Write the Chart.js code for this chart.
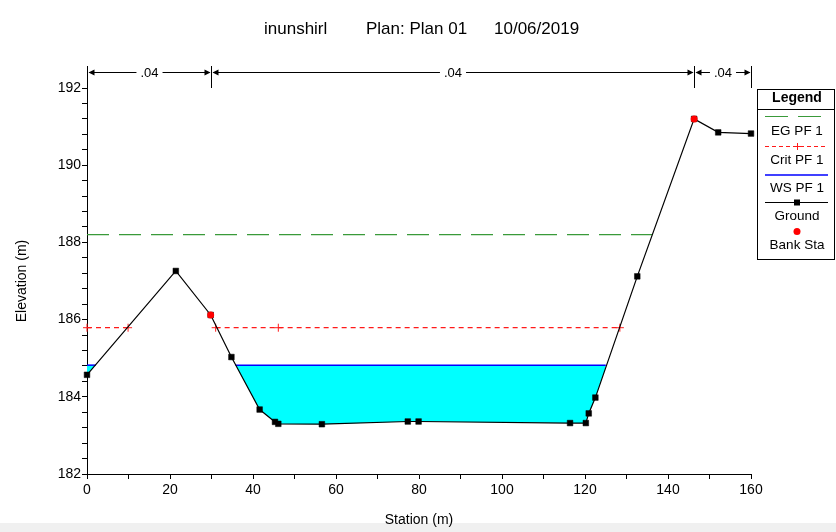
<!DOCTYPE html>
<html><head><meta charset="utf-8">
<script src="https://cdn.jsdelivr.net/npm/chart.js@4/dist/chart.umd.min.js"></script>
<style>
html,body{margin:0;padding:0;background:#fff;width:836px;height:532px;overflow:hidden}
#strip{position:absolute;left:0;top:523px;width:836px;height:9px;background:#f0f0f0}
#wrap{position:absolute;left:0;top:0;width:836px;height:532px}
</style></head><body>
<div id="strip"></div>
<div id="wrap"><canvas id="c" width="836" height="532"></canvas></div>
<script>
// ---- data ----
const titleParts = ['inunshirl', 'Plan: Plan 01', '10/06/2019'];
const xTitle = 'Station (m)';
const yTitle = 'Elevation (m)';
const groundSta  = [0, 21.4, 29.8, 34.8, 41.6, 45.3, 46.1, 56.6, 77.3, 79.9, 116.4, 120.2, 120.9, 122.5, 132.6, 146.3, 152.1, 160];
const groundElev = [184.57, 187.26, 186.12, 185.03, 183.67, 183.35, 183.30, 183.29, 183.36, 183.36, 183.32, 183.32, 183.57, 183.98, 187.12, 191.20, 190.85, 190.82];
const bankSta  = [29.8, 146.3];
const bankElev = [186.12, 191.20];
const wsElev = 184.82;
const wsLeftSta = [0, 2.1];
const wsMainSta = [35.8, 125.0];
const egElev = 188.20;
const egSta = [0, 136.2];
const critElev = 185.79;
const critLeftSta = [0, 9.9];
const critMainSta = [31.0, 46.1, 128.4];
const nBreaks = [0, 29.8, 146.3, 160];
const nValues = ['.04', '.04', '.04'];
const legendLabels = ['EG PF 1', 'Crit PF 1', 'WS PF 1', 'Ground', 'Bank Sta'];
const xTicks = [0, 20, 40, 60, 80, 100, 120, 140, 160];
const yTicks = [182, 184, 186, 188, 190, 192];

const F = '"Liberation Sans", Arial, sans-serif';
const C_EG = '#3a9a3a', C_CRIT = '#ff1a1a', C_WS = '#0000ff', C_WATER = '#00ffff', C_BANK = '#ff0000';

const pts = (xs, ys) => xs.map((x, i) => ({x: x, y: Array.isArray(ys) ? ys[i] : ys}));

const overlay = {
  id: 'overlay',
  afterDraw(chart) {
    const ctx = chart.ctx, xs = chart.scales.x, area = chart.chartArea;
    ctx.save();
    // title
    ctx.fillStyle = '#000';
    ctx.font = '17px ' + F;
    ctx.textBaseline = 'middle';
    ctx.textAlign = 'left';
    const tx = [264, 366, 494];
    titleParts.forEach((t, i) => ctx.fillText(t, tx[i], 29));
    // manning's n annotation
    ctx.strokeStyle = '#000';
    ctx.fillStyle = '#000';
    ctx.lineWidth = 1;
    const ay = 72.5;
    nBreaks.forEach(b => {
      const px = Math.round(xs.getPixelForValue(b)) + 0.5;
      ctx.beginPath(); ctx.moveTo(px, 66); ctx.lineTo(px, area.top); ctx.stroke();
    });
    ctx.font = '13px ' + F;
    ctx.textAlign = 'center';
    for (let i = 0; i < nValues.length; i++) {
      const xa = Math.round(xs.getPixelForValue(nBreaks[i])) + 0.5;
      const xb = Math.round(xs.getPixelForValue(nBreaks[i + 1])) + 0.5;
      const mid = (xa + xb) / 2;
      const w = ctx.measureText(nValues[i]).width / 2 + 4;
      ctx.beginPath();
      ctx.moveTo(xa + 2, ay); ctx.lineTo(mid - w, ay);
      ctx.moveTo(mid + w, ay); ctx.lineTo(xb - 2, ay);
      ctx.stroke();
      ctx.beginPath();
      ctx.moveTo(xa + 1, ay); ctx.lineTo(xa + 7, ay - 3); ctx.lineTo(xa + 7, ay + 3); ctx.closePath(); ctx.fill();
      ctx.beginPath();
      ctx.moveTo(xb - 1, ay); ctx.lineTo(xb - 7, ay - 3); ctx.lineTo(xb - 7, ay + 3); ctx.closePath(); ctx.fill();
      ctx.fillText(nValues[i], mid, ay + 1);
    }
    // legend box
    const L = 757.5, R = 834.5, T = 89.5, B = 259.5, cx = 797;
    ctx.strokeStyle = '#000';
    ctx.lineWidth = 1;
    ctx.fillStyle = '#fff';
    ctx.fillRect(L, T, R - L, B - T);
    ctx.strokeRect(L, T, R - L, B - T);
    ctx.beginPath(); ctx.moveTo(L, 109.5); ctx.lineTo(R, 109.5); ctx.stroke();
    ctx.fillStyle = '#000';
    ctx.font = 'bold 14px ' + F;
    ctx.textAlign = 'center';
    ctx.fillText('Legend', cx, 98);
    ctx.font = '13.5px ' + F;
    const lx0 = 765, lx1 = 828;
    // EG
    ctx.strokeStyle = C_EG; ctx.setLineDash([23, 10]);
    ctx.beginPath(); ctx.moveTo(lx0, 116.5); ctx.lineTo(lx1, 116.5); ctx.stroke();
    // Crit
    ctx.strokeStyle = C_CRIT; ctx.setLineDash([4, 3]);
    ctx.beginPath(); ctx.moveTo(lx0, 146.5); ctx.lineTo(lx1, 146.5); ctx.stroke();
    ctx.setLineDash([]);
    ctx.beginPath(); ctx.moveTo(cx - 3, 146.5); ctx.lineTo(cx + 3, 146.5); ctx.moveTo(cx + 0.5, 143); ctx.lineTo(cx + 0.5, 150); ctx.stroke();
    // WS
    ctx.strokeStyle = C_WS; ctx.lineWidth = 1.5;
    ctx.beginPath(); ctx.moveTo(lx0, 175); ctx.lineTo(lx1, 175); ctx.stroke();
    // Ground
    ctx.strokeStyle = '#000'; ctx.lineWidth = 1;
    ctx.beginPath(); ctx.moveTo(lx0, 202.5); ctx.lineTo(lx1, 202.5); ctx.stroke();
    ctx.fillStyle = '#000'; ctx.fillRect(cx - 3, 199.5, 6, 6);
    // Bank
    ctx.fillStyle = C_BANK;
    ctx.beginPath(); ctx.arc(cx, 231.5, 3.5, 0, Math.PI * 2); ctx.fill();
    ctx.fillStyle = '#000';
    const ly = [131.5, 160, 188.5, 216.5, 245];
    legendLabels.forEach((t, i) => ctx.fillText(t, cx, ly[i]));
    ctx.restore();
  }
};

new Chart(document.getElementById('c'), {
  type: 'scatter',
  data: {
    datasets: [
      { label: 'Ground', data: pts(groundSta, groundElev), showLine: true, borderColor: '#000', borderWidth: 1.2,
        pointStyle: 'rect', pointRadius: 4, pointBackgroundColor: '#000', pointBorderColor: '#000', pointBorderWidth: 0.5,
        fill: false, order: 1, clip: false },
      { label: 'WS PF 1', data: pts(wsMainSta, wsElev), showLine: true, borderColor: C_WS, borderWidth: 1.5,
        pointRadius: 0, backgroundColor: C_WATER, fill: {target: 0}, order: 3 },
      { label: 'WS PF 1 left', data: pts(wsLeftSta, wsElev), showLine: true, borderColor: C_WS, borderWidth: 1.5,
        pointRadius: 0, backgroundColor: C_WATER, fill: {target: 0}, order: 3 },
      { label: 'EG PF 1', data: pts(egSta, egElev), showLine: true, borderColor: C_EG, borderWidth: 1.2, borderDash: [22, 10],
        pointRadius: 0, fill: false, order: 2 },
      { label: 'Crit PF 1', data: pts(critLeftSta, critElev), showLine: true, borderColor: C_CRIT, borderWidth: 1.2, borderDash: [5, 4],
        pointStyle: 'cross', pointRadius: 4, pointBorderColor: C_CRIT, pointBorderWidth: 1, fill: false, order: 2, clip: false },
      { label: 'Crit PF 1 main', data: pts(critMainSta, critElev), showLine: true, borderColor: C_CRIT, borderWidth: 1.2, borderDash: [5, 4],
        pointStyle: 'cross', pointRadius: 4, pointBorderColor: C_CRIT, pointBorderWidth: 1, fill: false, order: 2, clip: false },
      { label: 'Bank Sta', data: pts(bankSta, bankElev), showLine: false, pointStyle: 'circle', pointRadius: 3.5,
        pointBackgroundColor: C_BANK, pointBorderColor: C_BANK, pointBorderWidth: 0, order: 0, clip: false }
    ]
  },
  options: {
    responsive: false,
    animation: false,
    layout: { padding: { top: 88, right: 85, left: 0, bottom: 0 } },
    plugins: { legend: { display: false }, title: { display: false }, tooltip: { enabled: false } },
    elements: { line: { tension: 0 } },
    scales: {
      x: {
        type: 'linear', min: xTicks[0], max: xTicks[xTicks.length - 1],
        ticks: { stepSize: 10, autoSkip: false, maxRotation: 0, padding: 3, color: '#000', font: { family: F, size: 14 },
          callback: v => (xTicks.includes(Math.round(v)) && Math.abs(v - Math.round(v)) < 1e-6 ? String(Math.round(v)) : '') },
        grid: { drawOnChartArea: false, drawTicks: true, tickLength: 5, color: '#000' },
        border: { display: true, color: '#000', width: 1 },
        title: { display: true, text: xTitle, color: '#000', font: { family: F, size: 14 }, padding: { top: 0, bottom: 3 } },
        afterFit: s => { s.height = 58; }
      },
      y: {
        type: 'linear', min: yTicks[0], max: yTicks[yTicks.length - 1],
        ticks: { stepSize: 0.4, autoSkip: false, padding: 1, color: '#000', font: { family: F, size: 14 },
          callback: v => { const r = Math.round(v); return (Math.abs(v - r) < 1e-6 && yTicks.includes(r)) ? String(r) : ''; } },
        grid: { drawOnChartArea: false, drawTicks: true, tickLength: 5, color: '#000' },
        border: { display: true, color: '#000', width: 1 },
        title: { display: true, text: yTitle, color: '#000', font: { family: F, size: 14 }, padding: { top: 14, bottom: 0 } },
        afterFit: s => { s.width = 87; }
      }
    }
  },
  plugins: [overlay]
});
</script>
</body></html>
